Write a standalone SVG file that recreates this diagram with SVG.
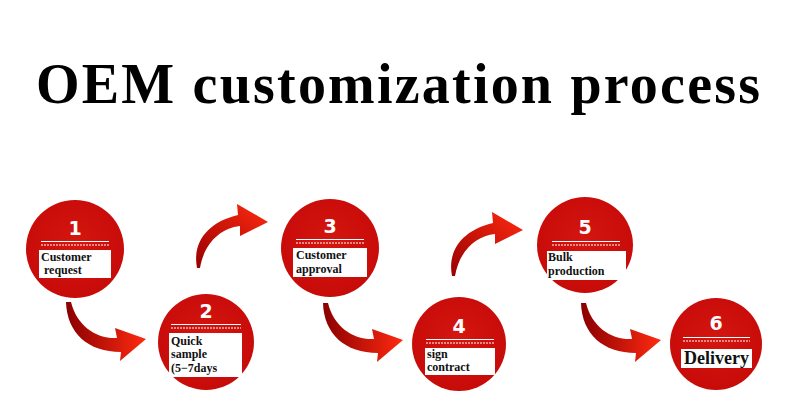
<svg xmlns="http://www.w3.org/2000/svg" width="786" height="406" viewBox="0 0 786 406">
<defs>
<radialGradient id="cg" cx="0.5" cy="0.45" r="0.55">
<stop offset="0" stop-color="#d5160f"/>
<stop offset="1" stop-color="#c70b09"/>
</radialGradient>
<linearGradient id="ag1" x1="0" y1="0" x2="1" y2="0">
<stop offset="0" stop-color="#8a0000"/>
<stop offset="1" stop-color="#ff2a10"/>
</linearGradient>
<linearGradient id="ag2" x1="0" y1="1" x2="1" y2="0">
<stop offset="0" stop-color="#9a0000"/>
<stop offset="1" stop-color="#ff2a10"/>
</linearGradient>
<path id="down" d="M66 302 C67 333 88 352 121 352 L120 361 L146 339 L115 328 L117 338 C96 339 77 326 71 302 Z"/>
<path id="up" d="M197 268 C192 242 208 222 238 215 L237 204 L268 222 L240 236 L240 226 C220 228 204 244 200 268 Z"/>
</defs>
<style>
.c{fill:url(#cg)}
.n{font-family:"DejaVu Sans","Liberation Sans",sans-serif;font-weight:bold;font-size:19px;fill:#fff;text-anchor:middle}
.l{stroke:#fff;stroke-width:1.2}
.d{stroke:#fff;stroke-width:1;stroke-dasharray:2 1}
.b{fill:#fff}
.t{font-family:"Liberation Serif","Times New Roman",serif;font-weight:bold;font-size:12px;fill:#111}
.title{font-family:"Liberation Serif","Times New Roman",serif;font-weight:bold;font-size:56px;fill:#000}
</style>
<rect width="786" height="406" fill="#fff"/>
<text class="title" x="36" y="103" textLength="724" lengthAdjust="spacing">OEM customization process</text>
<g id="connectors">
<use href="#down" fill="url(#ag1)"/>
<use href="#up" fill="url(#ag2)"/>
<use href="#down" fill="url(#ag1)" transform="translate(257,1)"/>
<use href="#up" fill="url(#ag2)" transform="translate(255,8)"/>
<use href="#down" fill="url(#ag1)" transform="translate(515,1)"/>
</g>
<g id="node1">
<circle class="c" cx="75" cy="249" r="49"/>
<text class="n" x="75" y="235">1</text>
<line class="l" x1="41" y1="241.5" x2="109" y2="241.5"/>
<line class="d" x1="41" y1="245" x2="109" y2="245"/>
<rect class="b" x="39" y="250" width="72" height="28"/>
<text class="t" x="41" y="261">Customer</text>
<text class="t" x="44" y="274">request</text>
</g>
<g id="node2">
<circle class="c" cx="206" cy="342" r="48"/>
<text class="n" x="206" y="318">2</text>
<line class="l" x1="171" y1="324.5" x2="241" y2="324.5"/>
<line class="d" x1="171" y1="328" x2="241" y2="328"/>
<rect class="b" x="169" y="333" width="73" height="44"/>
<text class="t" x="171" y="345">Quick</text>
<text class="t" x="171" y="358">sample</text>
<text class="t" x="171" y="372">(5−7days</text>
</g>
<g id="node3">
<circle class="c" cx="330" cy="248" r="49"/>
<text class="n" x="330" y="233">3</text>
<line class="l" x1="296" y1="239.5" x2="364" y2="239.5"/>
<line class="d" x1="296" y1="243" x2="364" y2="243"/>
<rect class="b" x="293" y="248" width="74" height="29"/>
<text class="t" x="296" y="259">Customer</text>
<text class="t" x="296" y="273">approval</text>
</g>
<g id="node4">
<circle class="c" cx="459" cy="344" r="47"/>
<text class="n" x="459" y="333">4</text>
<line class="l" x1="426" y1="339.5" x2="494" y2="339.5"/>
<line class="d" x1="426" y1="343" x2="494" y2="343"/>
<rect class="b" x="425" y="348" width="70" height="27"/>
<text class="t" x="427" y="358">sign</text>
<text class="t" x="427" y="371">contract</text>
</g>
<g id="node5">
<circle class="c" cx="585" cy="245" r="48"/>
<text class="n" x="585" y="234">5</text>
<line class="l" x1="552" y1="241.5" x2="620" y2="241.5"/>
<line class="d" x1="552" y1="245" x2="620" y2="245"/>
<rect class="b" x="547" y="251" width="79" height="29"/>
<text class="t" x="548" y="261">Bulk</text>
<text class="t" x="548" y="275">production</text>
</g>
<g id="node6">
<circle class="c" cx="716" cy="344" r="46"/>
<text class="n" x="716" y="330">6</text>
<line class="l" x1="683" y1="337.5" x2="750" y2="337.5"/>
<line class="d" x1="683" y1="341" x2="750" y2="341"/>
<rect class="b" x="681" y="349" width="71" height="19"/>
<text class="t" x="716.5" y="364" style="font-size:18px;text-anchor:middle">Delivery</text>
</g>
</svg>
